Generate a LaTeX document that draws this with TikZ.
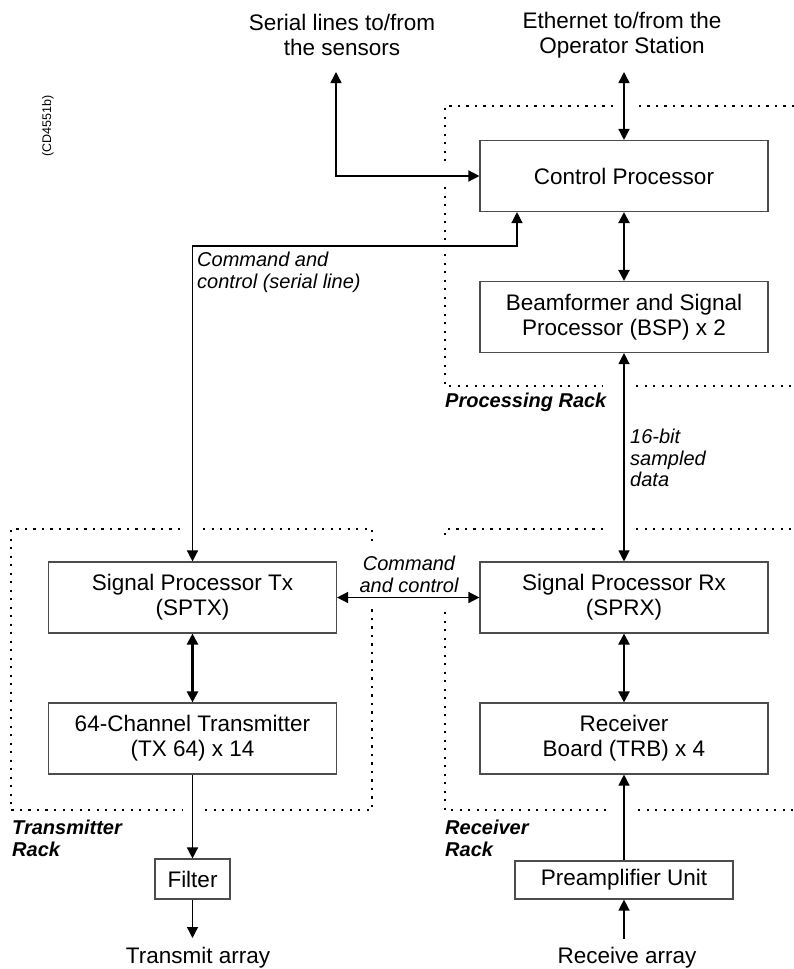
\documentclass[tikz,border=0pt]{standalone}
\usepackage{fontspec}
\setmainfont{Liberation Sans}
\usetikzlibrary{arrows.meta}
\begin{document}
\begin{tikzpicture}[x=1pt,y=-1pt,
  box/.style={draw=black!70, line width=1.1pt, minimum width=288pt, minimum height=71pt, align=center, font=\fontsize{22.5}{25}\selectfont, inner sep=0pt},
  lbl/.style={inner sep=0pt, font=\fontsize{22.5}{25}\selectfont, align=center},
  ital/.style={inner sep=0pt, font=\fontsize{20}{21.5}\selectfont\itshape, align=left},
  rack/.style={inner sep=0pt, font=\fontsize{20}{21.5}\selectfont\bfseries\itshape, align=left},
  tip/.tip={Triangle[length=11pt,width=11pt]},
  conn/.style={line width=1.3pt, -tip},
  both/.style={line width=1.4pt, tip-tip},
  heavy/.style={line width=2.2pt, tip-tip},
  dots/.style={line width=2.4pt, dash pattern=on 2.4pt off 6.1pt, black}
]
\useasboundingbox (0,0) rectangle (794,969);

% racks (dotted outlines)
\draw[dots] (794,106) -- (635,106);
\draw[dots] (613,106) -- (445,106) -- (445,167);
\draw[dots] (445,187) -- (445,240);
\draw[dots] (445,254) -- (445,386) -- (603,386);
\draw[dots] (636,386) -- (794,386);

\draw[dots] (180,529) -- (11,529) -- (11,810) -- (182,810);
\draw[dots] (205,810) -- (372,810) -- (372,607);
\draw[dots] (203,529) -- (372,529) -- (372,543);

\draw[dots] (603,529) -- (445,529) -- (445,537);
\draw[dots] (636,529) -- (794,529);
\draw[dots] (445,612) -- (445,810) -- (608,810);
\draw[dots] (638,810) -- (794,810);

% boxes
\node[box] (cp) at (624,176) {Control Processor};
\node[box] (bsp) at (624,317) {Beamformer and Signal\\Processor (BSP) x 2};
\node[box] (sptx) at (192.5,597.5) {Signal Processor Tx\\(SPTX)};
\node[box] (sprx) at (624,597.5) {Signal Processor Rx\\(SPRX)};
\node[box] (tx) at (192.5,738.5) {64-Channel Transmitter\\(TX 64) x 14};
\node[box] (trb) at (624,738.5) {Receiver\\Board (TRB) x 4};
\node[box, minimum width=75pt, minimum height=40pt] (filter) at (192.5,879) {Filter};
\node[box, minimum width=218pt, minimum height=38pt] (pre) at (624,880) {Preamplifier Unit};

% outside labels
\node[lbl] (serial) at (342,35) {Serial lines to/from\\the sensors};
\node[lbl] (eth) at (622,35) {Ethernet to/from the\\Operator Station};
\node[lbl] (txarr) at (198,958) {Transmit array};
\node[lbl] (rxarr) at (627,958) {Receive array};
\node[ital, anchor=west] (ccs) at (197,272.5) {Command and\\control (serial line)};
\node[ital, anchor=west] (bits) at (630,458) {16-bit\\sampled\\data};
\node[ital, align=center] (cc) at (409,574.5) {Command\\and control};
\node[rack, anchor=west] (prack) at (445,402) {Processing Rack};
\node[rack, anchor=west] (track) at (12,838.5) {Transmitter\\Rack};
\node[rack, anchor=west] (rrack) at (445,838.5) {Receiver\\Rack};
\node[inner sep=0pt, rotate=90, font=\fontsize{12.5}{12.5}\selectfont] (code) at (48,126) {(CD4551b)};

% free ends
\coordinate (sTop) at (336,72);
\coordinate (eTop) at (624,72);
\coordinate (ccBend) at (517,246);
\coordinate (txEnd) at (192.5,938);
\coordinate (rxStart) at (624,939);

% connectors
\draw[both] (sTop) |- (cp.west);
\draw[both] (eTop) -- (cp.north);
\draw[both] (sptx.north) |- (ccBend) -- (ccBend |- cp.south);
\draw[heavy] (cp.south) -- (bsp.north);
\draw[both, line width=1.2pt] (bsp.south) -- (sprx.north);
\draw[both] (sptx.east) -- (sprx.west);
\draw[heavy] (sptx.south) -- (tx.north);
\draw[heavy] (sprx.south) -- (trb.north);
\draw[conn] (tx.south) -- (filter.north);
\draw[conn] (filter.south) -- (txEnd);
\draw[conn] (pre.north) -- (trb.south);
\draw[conn] (rxStart) -- (pre.south);
\end{tikzpicture}
\end{document}
